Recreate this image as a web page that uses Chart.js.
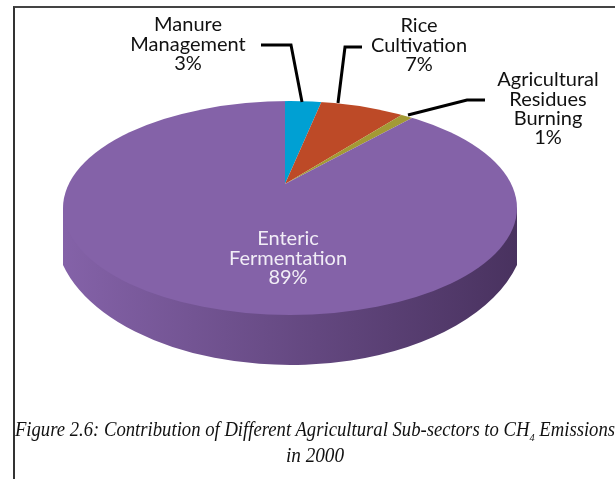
<!DOCTYPE html>
<html>
<head>
<meta charset="utf-8">
<script src="https://cdn.jsdelivr.net/npm/chart.js@4"></script>
<style>
  body { margin: 0; background: #fff; width: 615px; height: 479px; overflow: hidden; position: relative; }
  #frame { position: absolute; left: 13px; top: 6px; width: 602px; height: 473px; border-left: 2px solid #333; border-top: 2px solid #444; box-sizing: border-box; }
  canvas { position: absolute; left: 0; top: 0; }
  .caption { position: absolute; left: -35px; width: 700px; text-align: center; white-space: nowrap; font: italic 20px "Liberation Serif", serif; color: #111; }
  .caption sub { font-size: 11px; line-height: 0; }
  #line1 { transform: scaleX(0.934); }
  #line2 { transform: scaleX(0.96); }
</style>
</head>
<body>
<div id="frame"></div>
<canvas id="myChart" width="615" height="479"></canvas>
<div class="caption" id="line1" style="top:418px">Figure 2.6: Contribution of Different Agricultural Sub-sectors to CH<sub>4</sub> Emissions</div>
<div class="caption" id="line2" style="top:444px">in 2000</div>
<script>
const categories = ["Manure Management", "Rice Cultivation", "Agricultural Residues Burning", "Enteric Fermentation"];
const shares = [3, 7, 1, 89];
const sliceColors = ["#00a0d3", "#bd4a27", "#a39a35", "#8462a8"];

// the picture is in perspective: apex sits above the middle of the rim
const apex = {x: 285, y: 184};
const squash = 0.43;
const rim = {x: 290, y: 208, rx: 227, ry: 107};
const wallBottom = {y: 230, rx: 235, ry: 135, edge: 265};

const labelBoxes = [
  {lines: ["Manure", "Management"], x: 188, y: 25, color: "#111"},
  {lines: ["Rice", "Cultivation"], x: 419, y: 26, color: "#111"},
  {lines: ["Agricultural", "Residues", "Burning"], x: 548, y: 80, color: "#111"},
  {lines: ["Enteric", "Fermentation"], x: 288, y: 239, color: "#f1edf6"}
];
const leaders = [
  [[261, 45], [291, 45], [302, 102]],
  [[362, 47], [345, 47], [338, 103]],
  [[485, 100], [467, 100], [408, 115]]
];

const pie3d = {
  id: "pie3d",
  beforeDatasetsDraw(chart) {
    const ctx = chart.ctx;
    // side wall, the bottom curve is wider than the rim so it meets the edges at a corner
    const grad = ctx.createLinearGradient(rim.x - rim.rx, 0, rim.x + rim.rx, 0);
    grad.addColorStop(0, "#8462a8");
    grad.addColorStop(1, "#49325f");
    const corner = Math.acos(rim.rx / wallBottom.rx);
    ctx.save();
    ctx.fillStyle = grad;
    ctx.beginPath();
    ctx.moveTo(rim.x - rim.rx, rim.y);
    ctx.lineTo(rim.x - rim.rx, wallBottom.edge);
    ctx.ellipse(rim.x, wallBottom.y, wallBottom.rx, wallBottom.ry, 0, Math.PI - corner, corner, true);
    ctx.lineTo(rim.x + rim.rx, rim.y);
    ctx.closePath();
    ctx.fill();
    ctx.restore();

    // top face: the pie is clipped to the rim and flattened around the apex
    ctx.save();
    ctx.beginPath();
    ctx.ellipse(rim.x, rim.y, rim.rx, rim.ry, 0, 0, Math.PI * 2);
    ctx.clip();
    ctx.translate(apex.x, apex.y);
    ctx.scale(1, squash);
    ctx.translate(-apex.x, -apex.y);
  },
  afterDatasetsDraw(chart) {
    chart.ctx.restore();
  },
  afterDraw(chart) {
    const ctx = chart.ctx;
    ctx.save();
    ctx.strokeStyle = "#000";
    ctx.lineWidth = 3;
    ctx.lineJoin = "miter";
    leaders.forEach(pts => {
      ctx.beginPath();
      pts.forEach((p, i) => i ? ctx.lineTo(p[0], p[1]) : ctx.moveTo(p[0], p[1]));
      ctx.stroke();
    });
    ctx.font = '20px Lato';
    ctx.textAlign = "center";
    ctx.textBaseline = "middle";
    labelBoxes.forEach((box, i) => {
      ctx.fillStyle = box.color;
      const rows = box.lines.concat(shares[i] + "%");
      rows.forEach((t, r) => ctx.fillText(t, box.x, box.y + r * 19.3));
    });
    ctx.restore();
  }
};

new Chart(document.getElementById("myChart"), {
  type: "pie",
  data: {
    labels: categories,
    datasets: [{data: shares, backgroundColor: sliceColors, borderWidth: 0, hoverOffset: 0}]
  },
  options: {
    responsive: false,
    animation: false,
    radius: 330,
    layout: {padding: {right: 45, bottom: 111}},
    plugins: {legend: {display: false}, tooltip: {enabled: false}}
  },
  plugins: [pie3d]
});
</script>
</body>
</html>
